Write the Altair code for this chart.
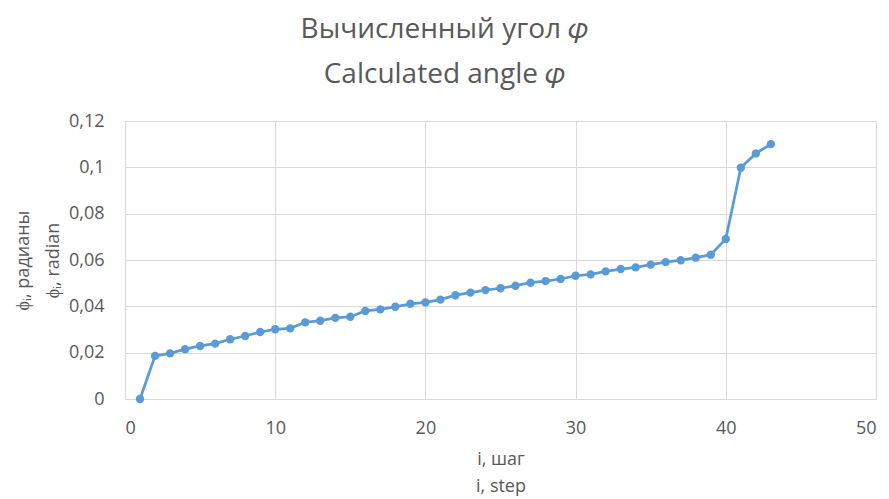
import altair as alt
import pandas as pd

steps = list(range(1, 44))
phi = [0.0, 0.0186, 0.0197, 0.0215, 0.0229, 0.0239, 0.0258, 0.0272, 0.0289, 0.0301,
       0.0305, 0.0331, 0.0338, 0.0350, 0.0355, 0.0380, 0.0387, 0.0398, 0.0411, 0.0417,
       0.0429, 0.0448, 0.0459, 0.0470, 0.0478, 0.0489, 0.0502, 0.0509, 0.0518, 0.0532,
       0.0538, 0.0551, 0.0561, 0.0568, 0.0580, 0.0591, 0.0599, 0.0610, 0.0623, 0.0691,
       0.0998, 0.1060, 0.1100]
x_ticks = [0, 10, 20, 30, 40, 50]
y_ticks = [0, 0.02, 0.04, 0.06, 0.08, 0.1, 0.12]

title_lines = ["Вычисленный угол 𝜑", "Calculated angle 𝜑"]
x_title = ["i, шаг", "i, step"]
y_title = ["ϕᵢ, радианы", "ϕᵢ, radian"]

df = pd.DataFrame({"step": steps, "phi": phi})

FONT = "Open Sans"
GRAY = "#595959"
GRID = "#d9d9d9"
BLUE = "#5B9BD5"

base = alt.Chart(df).encode(
    x=alt.X("step:Q",
            scale=alt.Scale(domain=[0, 50], nice=False),
            axis=alt.Axis(values=x_ticks, title=x_title, titleLineHeight=27,
                          titlePadding=13, labelPadding=20)),
    y=alt.Y("phi:Q",
            scale=alt.Scale(domain=[0, 0.12], nice=False),
            axis=alt.Axis(values=y_ticks, title=y_title, titleLineHeight=30,
                          titlePadding=6, labelPadding=21,
                          labelExpr="replace(format(datum.value, ''), '.', ',')")),
)

line = base.mark_line(color=BLUE, strokeWidth=2.75)
pts = base.mark_circle(color=BLUE, size=70, opacity=1)

chart = (line + pts).properties(
    width=751,
    height=278,
    title=alt.TitleParams(title_lines, font=FONT, fontSize=28, fontWeight="normal",
                          color=GRAY, lineHeight=45, dx=-56, offset=23, anchor="middle"),
    autosize=alt.AutoSizeParams(type="none"),
    padding={"left": 117, "top": 113, "right": 5, "bottom": 100},
).configure_axis(
    labelFont=FONT, labelFontSize=18, labelColor=GRAY,
    titleFont=FONT, titleFontSize=18, titleColor=GRAY, titleFontWeight="normal",
    gridColor=GRID, gridWidth=1, domainColor=GRID, ticks=False,
).configure_view(stroke=GRID)

chart.save("out.html", embed_options={"renderer": "svg", "actions": False})
